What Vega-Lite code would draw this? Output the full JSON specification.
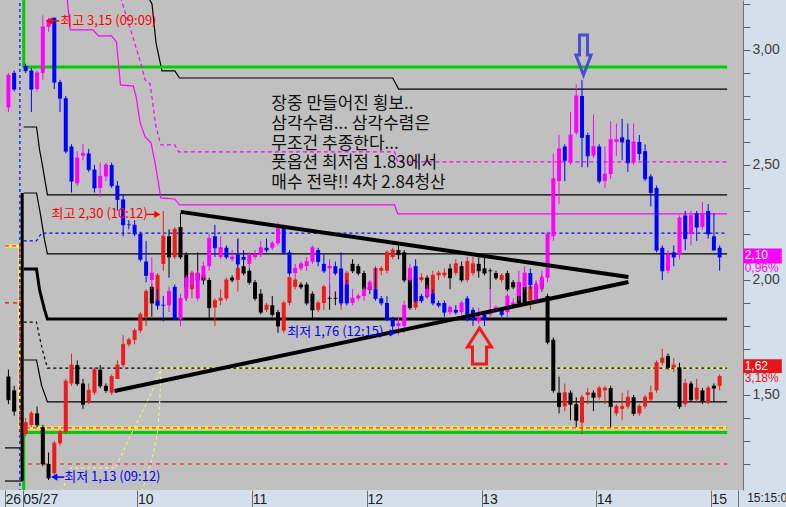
{
"$schema": "https://vega.github.io/schema/vega-lite/v6.json",
"width": 743, "height": 490,
"autosize": {"type": "none"},
"padding": {"left": 0, "top": 0, "right": 43, "bottom": 17},
"background": "#d4dfec",
"config": {"view": {"stroke": null, "fill": "#c0c0c0"}},
"datasets": {
"A": [
{"t":-7.5,"o":2.75,"h":2.9,"l":2.73,"c":2.89},{"t":-4.5,"o":2.9,"h":2.91,"l":2.82,"c":2.83},
{"t":1.5,"o":2.93,"h":2.94,"l":2.9,"c":2.91},{"t":4.5,"o":2.91,"h":2.92,"l":2.73,"c":2.83},{"t":7.5,"o":2.83,"h":2.91,"l":2.82,"c":2.9},{"t":10.5,"o":2.9,"h":3.15,"l":2.87,"c":3.1},{"t":13.5,"o":3.1,"h":3.14,"l":3.08,"c":3.13},
{"t":16.5,"o":3.14,"h":3.14,"l":2.83,"c":2.86},{"t":19.5,"o":2.86,"h":2.87,"l":2.73,"c":2.79},{"t":22.5,"o":2.79,"h":2.8,"l":2.55,"c":2.56},{"t":25.5,"o":2.58,"h":2.59,"l":2.38,"c":2.43},{"t":28.5,"o":2.42,"h":2.56,"l":2.41,"c":2.53},
{"t":31.5,"o":2.54,"h":2.59,"l":2.52,"c":2.55},{"t":34.5,"o":2.55,"h":2.57,"l":2.47,"c":2.48},{"t":37.5,"o":2.48,"h":2.5,"l":2.38,"c":2.4},{"t":40.5,"o":2.4,"h":2.51,"l":2.36,"c":2.45},{"t":43.5,"o":2.45,"h":2.51,"l":2.43,"c":2.5},
{"t":46.5,"o":2.5,"h":2.51,"l":2.4,"c":2.41},{"t":49.5,"o":2.41,"h":2.43,"l":2.3,"c":2.35},{"t":52.5,"o":2.35,"h":2.37,"l":2.19,"c":2.24},{"t":55.5,"o":2.24,"h":2.26,"l":2.22,"c":2.24},{"t":58.5,"o":2.24,"h":2.26,"l":2.19,"c":2.2},
{"t":61.5,"o":2.2,"h":2.21,"l":2.08,"c":2.09},{"t":64.5,"o":2.08,"h":2.17,"l":1.99,"c":2.02},{"t":67.5,"o":2.0,"h":2.1,"l":1.96,"c":2.03},{"t":70.5,"o":1.91,"h":1.96,"l":1.87,"c":1.89},{"t":73.5,"o":1.89,"h":1.93,"l":1.82,"c":1.89},
{"t":76.5,"o":1.89,"h":1.97,"l":1.86,"c":1.95},{"t":79.5,"o":1.97,"h":1.98,"l":1.83,"c":1.83},{"t":82.5,"o":1.83,"h":1.94,"l":1.8,"c":1.92},{"t":85.5,"o":1.92,"h":2.02,"l":1.91,"c":2.01},{"t":88.5,"o":1.98,"h":2.03,"l":1.97,"c":2.02},
{"t":91.5,"o":1.92,"h":2.04,"l":1.91,"c":2.03},{"t":94.5,"o":2.01,"h":2.08,"l":2.0,"c":2.06},{"t":97.5,"o":2.06,"h":2.2,"l":2.04,"c":2.18},{"t":100.5,"o":2.19,"h":2.24,"l":2.1,"c":2.14},{"t":103.5,"o":2.1,"h":2.19,"l":2.09,"c":2.14},
{"t":106.5,"o":2.14,"h":2.15,"l":2.09,"c":2.1},{"t":109.5,"o":2.09,"h":2.13,"l":2.08,"c":2.1},{"t":112.5,"o":2.11,"h":2.18,"l":2.05,"c":2.07},{"t":115.5,"o":2.1,"h":2.13,"l":2.08,"c":2.09},{"t":118.5,"o":2.07,"h":2.12,"l":2.05,"c":2.11},
{"t":121.5,"o":2.1,"h":2.13,"l":2.09,"c":2.11},{"t":124.5,"o":2.11,"h":2.17,"l":2.1,"c":2.14},{"t":127.5,"o":2.14,"h":2.18,"l":2.12,"c":2.13},{"t":130.5,"o":2.14,"h":2.17,"l":2.13,"c":2.16},{"t":133.5,"o":2.16,"h":2.25,"l":2.15,"c":2.24},
{"t":136.5,"o":2.23,"h":2.24,"l":2.11,"c":2.12},{"t":139.5,"o":2.12,"h":2.13,"l":2.02,"c":2.03},{"t":142.5,"o":2.03,"h":2.07,"l":2.01,"c":2.05},{"t":145.5,"o":2.05,"h":2.08,"l":2.04,"c":2.07},{"t":148.5,"o":2.06,"h":2.1,"l":2.04,"c":2.08},
{"t":151.5,"o":2.08,"h":2.15,"l":2.07,"c":2.14},{"t":154.5,"o":2.13,"h":2.14,"l":2.06,"c":2.08},{"t":157.5,"o":2.07,"h":2.11,"l":2.03,"c":2.04},{"t":160.5,"o":2.05,"h":2.09,"l":1.93,"c":2.06},{"t":163.5,"o":2.06,"h":2.08,"l":2.02,"c":2.03},
{"t":166.5,"o":2.05,"h":2.12,"l":1.89,"c":1.9},{"t":169.5,"o":1.98,"h":2.0,"l":1.89,"c":1.9},{"t":172.5,"o":1.9,"h":1.96,"l":1.89,"c":1.92},{"t":175.5,"o":1.92,"h":1.94,"l":1.91,"c":1.93},{"t":178.5,"o":1.93,"h":1.97,"l":1.91,"c":1.96},
{"t":181.5,"o":1.96,"h":2.0,"l":1.95,"c":1.99},{"t":184.5,"o":1.96,"h":2.05,"l":1.91,"c":1.92},{"t":187.5,"o":1.92,"h":1.93,"l":1.89,"c":1.9},{"t":190.5,"o":1.9,"h":1.93,"l":1.82,"c":1.83},{"t":193.5,"o":1.83,"h":1.84,"l":1.77,"c":1.8},
{"t":196.5,"o":1.8,"h":1.84,"l":1.76,"c":1.81},{"t":199.5,"o":1.8,"h":1.91,"l":1.77,"c":1.89},{"t":202.5,"o":2.0,"h":2.07,"l":1.99,"c":2.05},{"t":205.5,"o":2.06,"h":2.09,"l":1.9,"c":1.91},{"t":208.5,"o":1.93,"h":1.94,"l":1.9,"c":1.91},
{"t":211.5,"o":1.93,"h":1.98,"l":1.92,"c":1.96},{"t":214.5,"o":1.94,"h":1.96,"l":1.89,"c":1.9},{"t":217.5,"o":1.9,"h":1.91,"l":1.88,"c":1.89},{"t":220.5,"o":1.9,"h":1.91,"l":1.84,"c":1.86},{"t":223.5,"o":1.86,"h":1.89,"l":1.85,"c":1.88},
{"t":226.5,"o":1.87,"h":1.89,"l":1.85,"c":1.86},{"t":229.5,"o":1.86,"h":1.91,"l":1.85,"c":1.9},{"t":232.5,"o":1.92,"h":1.93,"l":1.82,"c":1.83},{"t":235.5,"o":1.87,"h":1.88,"l":1.8,"c":1.83},{"t":238.5,"o":1.82,"h":1.88,"l":1.81,"c":1.84},
{"t":241.5,"o":1.85,"h":1.86,"l":1.8,"c":1.83},{"t":244.5,"o":1.85,"h":1.96,"l":1.84,"c":1.87},{"t":247.5,"o":1.87,"h":1.89,"l":1.86,"c":1.88},{"t":250.5,"o":1.87,"h":1.88,"l":1.84,"c":1.85},{"t":253.5,"o":1.86,"h":1.94,"l":1.84,"c":1.93},
{"t":256.5,"o":1.89,"h":1.92,"l":1.88,"c":1.9},{"t":259.5,"o":1.93,"h":2.04,"l":1.91,"c":1.99},{"t":262.5,"o":1.97,"h":2.06,"l":1.96,"c":2.03},{"t":265.5,"o":2.03,"h":2.05,"l":1.96,"c":1.98},{"t":268.5,"o":1.91,"h":2.0,"l":1.9,"c":1.98},
{"t":271.5,"o":1.96,"h":2.04,"l":1.95,"c":2.01},{"t":274.5,"o":2.01,"h":2.21,"l":1.99,"c":2.2},{"t":277.5,"o":2.19,"h":2.55,"l":2.17,"c":2.44},{"t":280.5,"o":2.43,"h":2.63,"l":2.33,"c":2.57},{"t":283.5,"o":2.58,"h":2.59,"l":2.43,"c":2.52},
{"t":286.5,"o":2.51,"h":2.73,"l":2.5,"c":2.63},{"t":289.5,"o":2.64,"h":2.85,"l":2.63,"c":2.8},{"t":292.5,"o":2.8,"h":2.87,"l":2.49,"c":2.62},{"t":295.5,"o":2.63,"h":2.64,"l":2.49,"c":2.54},{"t":298.5,"o":2.54,"h":2.72,"l":2.53,"c":2.58},
{"t":301.5,"o":2.58,"h":2.59,"l":2.42,"c":2.43},{"t":304.5,"o":2.43,"h":2.58,"l":2.4,"c":2.46},{"t":307.5,"o":2.46,"h":2.69,"l":2.44,"c":2.61},{"t":310.5,"o":2.6,"h":2.68,"l":2.54,"c":2.61},{"t":313.5,"o":2.62,"h":2.7,"l":2.52,"c":2.6},
{"t":316.5,"o":2.61,"h":2.68,"l":2.47,"c":2.51},{"t":319.5,"o":2.51,"h":2.68,"l":2.5,"c":2.6},{"t":322.5,"o":2.6,"h":2.63,"l":2.52,"c":2.55},{"t":325.5,"o":2.56,"h":2.59,"l":2.43,"c":2.44},{"t":328.5,"o":2.45,"h":2.46,"l":2.32,"c":2.38},
{"t":331.5,"o":2.4,"h":2.41,"l":2.12,"c":2.13},{"t":334.5,"o":2.14,"h":2.15,"l":2.0,"c":2.04},{"t":337.5,"o":2.04,"h":2.13,"l":2.03,"c":2.11},{"t":340.5,"o":2.12,"h":2.15,"l":2.06,"c":2.1},{"t":343.5,"o":2.11,"h":2.28,"l":2.09,"c":2.27},
{"t":346.5,"o":2.28,"h":2.3,"l":2.13,"c":2.18},{"t":349.5,"o":2.2,"h":2.3,"l":2.15,"c":2.28},{"t":352.5,"o":2.29,"h":2.3,"l":2.17,"c":2.23},{"t":355.5,"o":2.23,"h":2.34,"l":2.22,"c":2.29},{"t":358.5,"o":2.3,"h":2.33,"l":2.18,"c":2.2},
{"t":361.5,"o":2.19,"h":2.29,"l":2.13,"c":2.13},{"t":364.5,"o":2.14,"h":2.15,"l":2.04,"c":2.1}
],
"B": [
{"t":-7.5,"o":1.58,"h":1.61,"l":1.46,"c":1.48},{"t":-4.5,"o":1.52,"h":1.54,"l":1.41,"c":1.43},
{"t":1.5,"o":1.33,"h":1.4,"l":1.32,"c":1.38},{"t":4.5,"o":1.37,"h":1.43,"l":1.36,"c":1.42},{"t":7.5,"o":1.42,"h":1.45,"l":1.36,"c":1.37},{"t":10.5,"o":1.36,"h":1.37,"l":1.19,"c":1.2},{"t":13.5,"o":1.2,"h":1.25,"l":1.13,"c":1.14},
{"t":16.5,"o":1.16,"h":1.3,"l":1.14,"c":1.29},{"t":19.5,"o":1.29,"h":1.35,"l":1.28,"c":1.34},{"t":22.5,"o":1.34,"h":1.57,"l":1.33,"c":1.56},{"t":25.5,"o":1.55,"h":1.68,"l":1.54,"c":1.63},{"t":28.5,"o":1.63,"h":1.65,"l":1.54,"c":1.55},
{"t":31.5,"o":1.55,"h":1.57,"l":1.44,"c":1.46},{"t":34.5,"o":1.47,"h":1.55,"l":1.46,"c":1.52},{"t":37.5,"o":1.51,"h":1.62,"l":1.5,"c":1.61},{"t":40.5,"o":1.61,"h":1.63,"l":1.53,"c":1.54},{"t":43.5,"o":1.54,"h":1.55,"l":1.51,"c":1.52},
{"t":46.5,"o":1.51,"h":1.59,"l":1.5,"c":1.58},{"t":49.5,"o":1.57,"h":1.65,"l":1.57,"c":1.63},{"t":52.5,"o":1.63,"h":1.76,"l":1.62,"c":1.72},{"t":55.5,"o":1.72,"h":1.75,"l":1.71,"c":1.74},{"t":58.5,"o":1.74,"h":1.79,"l":1.72,"c":1.78},
{"t":61.5,"o":1.78,"h":1.86,"l":1.77,"c":1.85},{"t":64.5,"o":1.84,"h":1.96,"l":1.8,"c":1.95},{"t":67.5,"o":1.97,"h":1.98,"l":1.84,"c":1.9},{"t":70.5,"o":1.89,"h":2.03,"l":1.88,"c":2.02},{"t":73.5,"o":2.07,"h":2.3,"l":2.04,"c":2.19},
{"t":76.5,"o":2.19,"h":2.22,"l":2.01,"c":2.1},{"t":79.5,"o":2.1,"h":2.23,"l":2.09,"c":2.22},{"t":82.5,"o":2.23,"h":2.29,"l":2.09,"c":2.1},{"t":85.5,"o":2.11,"h":2.12,"l":1.91,"c":1.97},{"t":88.5,"o":1.96,"h":2.04,"l":1.92,"c":2.03},
{"t":91.5,"o":2.03,"h":2.12,"l":1.96,"c":2.0},{"t":94.5,"o":2.02,"h":2.06,"l":1.98,"c":2.0},{"t":97.5,"o":2.0,"h":2.01,"l":1.83,"c":1.88},{"t":100.5,"o":1.88,"h":1.92,"l":1.8,"c":1.91},{"t":103.5,"o":1.91,"h":1.96,"l":1.89,"c":1.92},
{"t":106.5,"o":1.92,"h":2.01,"l":1.91,"c":2.0},{"t":109.5,"o":2.01,"h":2.02,"l":1.99,"c":2.0},{"t":112.5,"o":2.0,"h":2.18,"l":1.95,"c":2.05},{"t":115.5,"o":2.06,"h":2.12,"l":2.02,"c":2.03},{"t":118.5,"o":2.04,"h":2.05,"l":1.98,"c":1.99},
{"t":121.5,"o":1.99,"h":2.0,"l":1.91,"c":1.92},{"t":124.5,"o":1.94,"h":1.96,"l":1.85,"c":1.86},{"t":127.5,"o":1.87,"h":1.9,"l":1.86,"c":1.89},{"t":130.5,"o":1.89,"h":1.93,"l":1.84,"c":1.85},{"t":133.5,"o":1.86,"h":1.87,"l":1.77,"c":1.8},
{"t":136.5,"o":1.78,"h":1.91,"l":1.77,"c":1.9},{"t":139.5,"o":1.9,"h":2.03,"l":1.89,"c":2.01},{"t":142.5,"o":1.97,"h":2.01,"l":1.96,"c":2.0},{"t":145.5,"o":1.98,"h":1.99,"l":1.96,"c":1.97},{"t":148.5,"o":1.98,"h":1.99,"l":1.89,"c":1.9},
{"t":151.5,"o":1.94,"h":1.95,"l":1.83,"c":1.87},{"t":154.5,"o":1.87,"h":1.91,"l":1.86,"c":1.9},{"t":157.5,"o":1.9,"h":1.98,"l":1.87,"c":1.97},{"t":160.5,"o":1.92,"h":1.98,"l":1.87,"c":1.92},{"t":163.5,"o":1.92,"h":1.95,"l":1.89,"c":1.92},
{"t":166.5,"o":1.9,"h":2.03,"l":1.87,"c":2.0},{"t":169.5,"o":1.91,"h":2.04,"l":1.9,"c":2.03},{"t":172.5,"o":2.07,"h":2.09,"l":2.03,"c":2.04},{"t":175.5,"o":2.06,"h":2.07,"l":2.02,"c":2.03},{"t":178.5,"o":2.03,"h":2.04,"l":1.95,"c":1.96},
{"t":181.5,"o":1.97,"h":1.98,"l":1.94,"c":1.96},{"t":184.5,"o":1.96,"h":2.06,"l":1.95,"c":2.05},{"t":187.5,"o":2.04,"h":2.06,"l":2.02,"c":2.05},{"t":190.5,"o":2.04,"h":2.13,"l":2.03,"c":2.12},{"t":193.5,"o":2.1,"h":2.14,"l":2.09,"c":2.13},
{"t":196.5,"o":2.13,"h":2.15,"l":2.09,"c":2.11},{"t":199.5,"o":2.12,"h":2.13,"l":1.99,"c":2.0},{"t":202.5,"o":2.01,"h":2.02,"l":1.87,"c":1.88},{"t":205.5,"o":1.88,"h":2.04,"l":1.87,"c":2.01},{"t":208.5,"o":2.0,"h":2.03,"l":1.99,"c":2.01},
{"t":211.5,"o":2.01,"h":2.02,"l":1.92,"c":1.93},{"t":214.5,"o":1.94,"h":2.04,"l":1.93,"c":2.02},{"t":217.5,"o":2.02,"h":2.04,"l":2.0,"c":2.03},{"t":220.5,"o":2.02,"h":2.05,"l":2.01,"c":2.03},{"t":223.5,"o":2.05,"h":2.07,"l":1.96,"c":2.01},
{"t":226.5,"o":2.03,"h":2.09,"l":2.02,"c":2.07},{"t":229.5,"o":2.06,"h":2.08,"l":1.99,"c":2.0},{"t":232.5,"o":2.0,"h":2.1,"l":1.99,"c":2.08},{"t":235.5,"o":2.03,"h":2.1,"l":2.02,"c":2.07},{"t":238.5,"o":2.07,"h":2.1,"l":2.01,"c":2.04},
{"t":241.5,"o":2.05,"h":2.1,"l":2.02,"c":2.03},{"t":244.5,"o":2.04,"h":2.05,"l":1.96,"c":2.04},{"t":247.5,"o":2.03,"h":2.04,"l":2.0,"c":2.01},{"t":250.5,"o":2.0,"h":2.03,"l":1.99,"c":2.02},{"t":253.5,"o":2.03,"h":2.04,"l":1.95,"c":1.96},
{"t":256.5,"o":1.99,"h":2.0,"l":1.96,"c":1.97},{"t":259.5,"o":1.98,"h":1.99,"l":1.89,"c":1.9},{"t":262.5,"o":1.97,"h":1.98,"l":1.89,"c":1.9},{"t":265.5,"o":1.91,"h":1.98,"l":1.87,"c":1.97},{"t":268.5,"o":1.97,"h":1.99,"l":1.94,"c":1.96},
{"t":271.5,"o":2.0,"h":2.02,"l":1.95,"c":1.97},{"t":274.5,"o":1.93,"h":1.94,"l":1.72,"c":1.73},{"t":277.5,"o":1.74,"h":1.75,"l":1.51,"c":1.52},{"t":280.5,"o":1.51,"h":1.58,"l":1.42,"c":1.45},{"t":283.5,"o":1.45,"h":1.55,"l":1.43,"c":1.51},
{"t":286.5,"o":1.51,"h":1.52,"l":1.39,"c":1.46},{"t":289.5,"o":1.46,"h":1.49,"l":1.36,"c":1.39},{"t":292.5,"o":1.38,"h":1.5,"l":1.33,"c":1.49},{"t":295.5,"o":1.5,"h":1.53,"l":1.46,"c":1.51},{"t":298.5,"o":1.51,"h":1.52,"l":1.43,"c":1.49},
{"t":301.5,"o":1.49,"h":1.54,"l":1.48,"c":1.53},{"t":304.5,"o":1.52,"h":1.54,"l":1.46,"c":1.53},{"t":307.5,"o":1.53,"h":1.54,"l":1.36,"c":1.45},{"t":310.5,"o":1.42,"h":1.46,"l":1.41,"c":1.45},{"t":313.5,"o":1.44,"h":1.51,"l":1.39,"c":1.45},
{"t":316.5,"o":1.45,"h":1.52,"l":1.44,"c":1.49},{"t":319.5,"o":1.49,"h":1.5,"l":1.41,"c":1.42},{"t":322.5,"o":1.42,"h":1.46,"l":1.41,"c":1.45},{"t":325.5,"o":1.45,"h":1.5,"l":1.44,"c":1.49},{"t":328.5,"o":1.48,"h":1.54,"l":1.47,"c":1.51},
{"t":331.5,"o":1.52,"h":1.65,"l":1.51,"c":1.64},{"t":334.5,"o":1.64,"h":1.7,"l":1.63,"c":1.66},{"t":337.5,"o":1.67,"h":1.68,"l":1.61,"c":1.62},{"t":340.5,"o":1.62,"h":1.66,"l":1.6,"c":1.63},{"t":343.5,"o":1.62,"h":1.64,"l":1.44,"c":1.45},
{"t":346.5,"o":1.46,"h":1.57,"l":1.45,"c":1.55},{"t":349.5,"o":1.55,"h":1.56,"l":1.47,"c":1.48},{"t":352.5,"o":1.48,"h":1.57,"l":1.47,"c":1.53},{"t":355.5,"o":1.52,"h":1.53,"l":1.46,"c":1.47},{"t":358.5,"o":1.47,"h":1.54,"l":1.46,"c":1.53},
{"t":361.5,"o":1.54,"h":1.55,"l":1.47,"c":1.53},{"t":364.5,"o":1.54,"h":1.59,"l":1.52,"c":1.58}
],
"lines": [
{"line":"upperBlack","k":0,"t":65.5,"p":3.23},{"line":"upperBlack","k":1,"t":67.6,"p":3.2},{"line":"upperBlack","k":2,"t":69.7,"p":3.03},{"line":"upperBlack","k":3,"t":72.8,"p":2.909},{"line":"upperBlack","k":4,"t":79.5,"p":2.909},{"line":"upperBlack","k":5,"t":82.0,"p":2.878},{"line":"upperBlack","k":6,"t":193.5,"p":2.878},{"line":"upperBlack","k":7,"t":196.6,"p":2.83},{"line":"upperBlack","k":8,"t":368.4,"p":2.83},
{"line":"magSolid","k":0,"t":23.2,"p":3.23},{"line":"magSolid","k":1,"t":24.8,"p":3.087},{"line":"magSolid","k":2,"t":36.6,"p":3.087},{"line":"magSolid","k":3,"t":39.7,"p":3.061},{"line":"magSolid","k":4,"t":46.4,"p":3.061},{"line":"magSolid","k":5,"t":49.0,"p":3.035},{"line":"magSolid","k":6,"t":51.1,"p":2.848},{"line":"magSolid","k":7,"t":57.8,"p":2.843},{"line":"magSolid","k":8,"t":59.3,"p":2.796},{"line":"magSolid","k":9,"t":61.4,"p":2.683},{"line":"magSolid","k":10,"t":64.0,"p":2.622},{"line":"magSolid","k":11,"t":67.1,"p":2.596},{"line":"magSolid","k":12,"t":69.1,"p":2.513},{"line":"magSolid","k":13,"t":70.7,"p":2.435},{"line":"magSolid","k":14,"t":72.2,"p":2.357},{"line":"magSolid","k":15,"t":79.5,"p":2.352},{"line":"magSolid","k":16,"t":82.0,"p":2.326},{"line":"magSolid","k":17,"t":194.5,"p":2.326},{"line":"magSolid","k":18,"t":196.1,"p":2.287},{"line":"magSolid","k":19,"t":368.4,"p":2.287},
{"line":"magDash","k":0,"t":51.1,"p":3.23},{"line":"magDash","k":1,"t":61.4,"p":2.952},{"line":"magDash","k":2,"t":64.0,"p":2.87},{"line":"magDash","k":3,"t":66.6,"p":2.852},{"line":"magDash","k":4,"t":69.7,"p":2.665},{"line":"magDash","k":5,"t":72.2,"p":2.587},{"line":"magDash","k":6,"t":79.5,"p":2.587},{"line":"magDash","k":7,"t":81.5,"p":2.557},{"line":"magDash","k":8,"t":194.5,"p":2.557},{"line":"magDash","k":9,"t":196.1,"p":2.513},{"line":"magDash","k":10,"t":368.4,"p":2.513},
{"line":"blackA","k":0,"t":0.5,"p":2.665},{"line":"blackA","k":1,"t":7.2,"p":2.665},{"line":"blackA","k":2,"t":8.8,"p":2.565},{"line":"blackA","k":3,"t":9.8,"p":2.522},{"line":"blackA","k":4,"t":12.9,"p":2.37},{"line":"blackA","k":5,"t":368.4,"p":2.37},
{"line":"blackB","k":0,"t":0.5,"p":2.378},{"line":"blackB","k":1,"t":7.2,"p":2.378},{"line":"blackB","k":2,"t":9.3,"p":2.283},{"line":"blackB","k":3,"t":11.4,"p":2.174},{"line":"blackB","k":4,"t":12.9,"p":2.113},{"line":"blackB","k":5,"t":368.4,"p":2.113},
{"line":"thickC","k":0,"t":0.5,"p":2.048},{"line":"thickC","k":1,"t":7.2,"p":2.048},{"line":"thickC","k":2,"t":8.8,"p":1.957},{"line":"thickC","k":3,"t":11.4,"p":1.87},{"line":"thickC","k":4,"t":12.9,"p":1.83},{"line":"thickC","k":5,"t":368.4,"p":1.83},
{"line":"blackD","k":0,"t":0.5,"p":1.652},{"line":"blackD","k":1,"t":7.2,"p":1.652},{"line":"blackD","k":2,"t":9.8,"p":1.543},{"line":"blackD","k":3,"t":12.9,"p":1.47},{"line":"blackD","k":4,"t":368.4,"p":1.47},
{"line":"dashE","k":0,"t":0.5,"p":1.817},{"line":"dashE","k":1,"t":7.2,"p":1.817},{"line":"dashE","k":2,"t":8.3,"p":1.77},{"line":"dashE","k":3,"t":10.3,"p":1.696},{"line":"dashE","k":4,"t":12.9,"p":1.617},{"line":"dashE","k":5,"t":368.4,"p":1.617},
{"line":"yellowE","k":0,"t":72.2,"p":1.617},{"line":"yellowE","k":1,"t":368.4,"p":1.617},
{"line":"blueDash","k":0,"t":0.5,"p":2.17},{"line":"blueDash","k":1,"t":7.2,"p":2.17},{"line":"blueDash","k":2,"t":9.8,"p":2.204},{"line":"blueDash","k":3,"t":368.4,"p":2.204},
{"line":"blueV","k":0,"t":-1.5,"p":3.23},{"line":"blueV","k":1,"t":-1.5,"p":1.08},
{"line":"redDash","k":0,"t":-9.3,"p":1.9},{"line":"redDash","k":1,"t":-1.0,"p":1.9},{"line":"redDash","k":2,"t":-1.0,"p":1.2},{"line":"redDash","k":3,"t":368.4,"p":1.2},
{"line":"yellowLow","k":0,"t":-9.3,"p":2.148},{"line":"yellowLow","k":1,"t":-1.5,"p":2.148},{"line":"yellowLow","k":2,"t":-1.5,"p":1.357},{"line":"yellowLow","k":3,"t":368.4,"p":1.357},
{"line":"magDashLow","k":0,"t":-9.3,"p":2.148},{"line":"magDashLow","k":1,"t":-1.5,"p":2.148},{"line":"magDashLow","k":2,"t":-1.5,"p":1.357},{"line":"magDashLow","k":3,"t":368.4,"p":1.357},
{"line":"greenTop","k":0,"t":0,"p":2.926},{"line":"greenTop","k":1,"t":368.4,"p":2.926},
{"line":"greenLow","k":0,"t":0,"p":1.337},{"line":"greenLow","k":1,"t":368.4,"p":1.337},
{"line":"greenV1","k":0,"t":0.5,"p":3.23},{"line":"greenV1","k":1,"t":0.5,"p":2.926},
{"line":"greenV2","k":0,"t":0.5,"p":1.337},{"line":"greenV2","k":1,"t":0.5,"p":1.08},
{"line":"blackV","k":0,"t":-0.3,"p":2.378},{"line":"blackV","k":1,"t":-0.3,"p":1.126},
{"line":"prevBlack1","k":0,"t":-9.3,"p":1.27},{"line":"prevBlack1","k":1,"t":-0.3,"p":1.27},
{"line":"prevBlack2","k":0,"t":-9.3,"p":1.126},{"line":"prevBlack2","k":1,"t":-0.3,"p":1.126},
{"line":"yel1","k":0,"t":20.6,"p":1.08},{"line":"yel1","k":1,"t":24.8,"p":1.183},{"line":"yel1","k":2,"t":48.5,"p":1.183},{"line":"yel1","k":3,"t":55.2,"p":1.304},{"line":"yel1","k":4,"t":63.0,"p":1.435},{"line":"yel1","k":5,"t":69.1,"p":1.543},{"line":"yel1","k":6,"t":72.2,"p":1.613},
{"line":"yel2","k":0,"t":62.4,"p":1.08},{"line":"yel2","k":1,"t":68.1,"p":1.239},{"line":"yel2","k":2,"t":70.7,"p":1.348},{"line":"yel2","k":3,"t":71.7,"p":1.478},{"line":"yel2","k":4,"t":72.2,"p":1.613},
{"line":"triUpper","k":0,"t":82.6,"p":2.296},{"line":"triUpper","k":1,"t":316.8,"p":2.013},
{"line":"triLower","k":0,"t":48.0,"p":1.517},{"line":"triLower","k":1,"t":316.8,"p":1.991},
{"line":"arrHi1","k":0,"t":15.2,"p":3.126},{"line":"arrHi1","k":1,"t":19.1,"p":3.126},
{"line":"arrHi2","k":0,"t":64.5,"p":2.285},{"line":"arrHi2","k":1,"t":70.4,"p":2.285},
{"line":"arrLo2","k":0,"t":16.5,"p":1.143},{"line":"arrLo2","k":1,"t":21.7,"p":1.143}
],
"tri": [
{"t":13.7,"p":3.126,"kind":"high","dir":"left"},
{"t":70.4,"p":2.285,"kind":"high","dir":"right"},
{"t":193.5,"p":1.77,"kind":"low","dir":"right"},
{"t":16.5,"p":1.143,"kind":"low","dir":"left"}
],
"ann": [
{"t":19.6,"p":3.126,"kind":"high","txt":"최고 3,15 (09:09)"},
{"t":15.0,"p":2.285,"kind":"high","txt":"최고 2,30 (10:12)"},
{"t":138.3,"p":1.774,"kind":"low","txt":"최저 1,76 (12:15)"},
{"t":21.7,"p":1.143,"kind":"low","txt":"최저 1,13 (09:12)"}
],
"notes": [
{"t":130.0,"p":2.765,"txt":"장중 만들어진 횡보.."},
{"t":130.0,"p":2.678,"txt":"삼각수렴... 삼각수렴은"},
{"t":130.0,"p":2.593,"txt":"무조건 추종한다..."},
{"t":130.0,"p":2.507,"txt":"풋옵션 최저점 1.83에서"},
{"t":130.0,"p":2.42,"txt":"매수 전략!! 4차 2.84청산"}
],
"bigArrows": [
{"t":238.9,"p":1.713,"kind":"up"},
{"t":293.3,"p":2.978,"kind":"down"}
],
"boxes": [
{"t":376.7,"t2":397,"p":2.137,"p2":2.072,"name":"A"},
{"t":376.7,"t2":397,"p":1.655,"p2":1.596,"name":"B"}
],
"rlabels": [
{"t":377.6,"p":2.107,"txt":"2,10","name":"Abox"},
{"t":377.6,"p":2.054,"txt":"0,96%","name":"Apct"},
{"t":377.6,"p":1.626,"txt":"1,62","name":"Bbox"},
{"t":377.6,"p":1.574,"txt":"3,18%","name":"Bpct"},
{"t":378.9,"p":1.052,"txt":"15:15:00","name":"time"}
]
},
"encoding": {
"x": {"field": "t", "type": "quantitative", "title": null,
 "scale": {"domain": [-9.29, 374.1], "nice": false, "zero": false},
 "axis": {"orient": "bottom", "values": [-9.29, 0, 60, 120, 180, 240, 300, 360, 374.1],
  "labelExpr": "datum.value < -5 ? '26' : (datum.value == 0 ? '05/27' : (datum.value > 370 ? '' : format(9 + datum.value/60, 'd')))",
  "labelAlign": "left", "labelBaseline": "top", "labelPadding": -15, "labelDx": 2,
  "tickSize": 17, "tickColor": "#6e6e6e", "tickWidth": 1, "domain": false, "grid": false, "title": null,
  "labelFont": "Liberation Sans", "labelFontSize": 14, "labelColor": "#222222",
  "labelFlush": false, "labelOverlap": false, "labelBound": false}},
"y": {"field": "p", "type": "quantitative", "title": null,
 "scale": {"domain": [1.087, 3.217], "nice": false, "zero": false},
 "axis": {"orient": "right", "values": [1.2,1.3,1.4,1.5,1.6,1.7,1.8,1.9,2.0,2.1,2.2,2.3,2.4,2.5,2.6,2.7,2.8,2.9,3.0,3.1,3.2],
  "labelExpr": "abs(datum.value*2 - round(datum.value*2)) < 0.01 ? replace(format(datum.value, '.2f'), '.', ',') : ''",
  "tickSize": 7, "tickColor": "#606060", "domainColor": "#707070", "grid": false, "title": null,
  "labelFont": "Liberation Sans", "labelFontSize": 14, "labelColor": "#404040", "labelPadding": 2, "labelOverlap": false, "labelBaseline": "middle"}}
},
"layer": [
{"data": {"name": "lines"},
 "transform": [{"filter": {"field": "line", "oneOf": ["upperBlack", "blackA", "blackB", "blackD", "prevBlack1", "prevBlack2"]}}],
 "mark": {"type": "line", "color": "#000000", "strokeWidth": 1.2, "clip": true},
 "encoding": {"detail": {"field": "line"}, "order": {"field": "k"}}},
{"data": {"name": "lines"},
 "transform": [{"filter": {"field": "line", "oneOf": ["greenTop", "greenLow", "greenV1", "greenV2"]}}],
 "mark": {"type": "line", "color": "#00cc00", "strokeWidth": 3, "clip": true},
 "encoding": {"detail": {"field": "line"}, "order": {"field": "k"}}},
{"data": {"name": "lines"},
 "transform": [{"filter": {"field": "line", "oneOf": ["yellowLow"]}}],
 "mark": {"type": "line", "color": "#ffff00", "strokeWidth": 3, "clip": true},
 "encoding": {"detail": {"field": "line"}, "order": {"field": "k"}}},
{"data": {"name": "lines"},
 "transform": [{"filter": {"field": "line", "oneOf": ["yellowE"]}}],
 "mark": {"type": "line", "color": "#ffff40", "strokeWidth": 1.3, "clip": true},
 "encoding": {"detail": {"field": "line"}, "order": {"field": "k"}}},
{"data": {"name": "lines"},
 "transform": [{"filter": {"field": "line", "oneOf": ["magDash", "magDashLow"]}}],
 "mark": {"type": "line", "color": "#ff00ff", "strokeWidth": 1.2, "strokeDash": [4, 3], "clip": true},
 "encoding": {"detail": {"field": "line"}, "order": {"field": "k"}}},
{"data": {"name": "lines"},
 "transform": [{"filter": {"field": "line", "oneOf": ["magSolid"]}}],
 "mark": {"type": "line", "color": "#ff00ff", "strokeWidth": 1.2, "clip": true},
 "encoding": {"detail": {"field": "line"}, "order": {"field": "k"}}},
{"data": {"name": "lines"},
 "transform": [{"filter": {"field": "line", "oneOf": ["blueDash", "blueV"]}}],
 "mark": {"type": "line", "color": "#0000ff", "strokeWidth": 1.2, "strokeDash": [3, 3], "clip": true},
 "encoding": {"detail": {"field": "line"}, "order": {"field": "k"}}},
{"data": {"name": "lines"},
 "transform": [{"filter": {"field": "line", "oneOf": ["redDash"]}}],
 "mark": {"type": "line", "color": "#ff0000", "strokeWidth": 1.2, "strokeDash": [4, 4], "clip": true},
 "encoding": {"detail": {"field": "line"}, "order": {"field": "k"}}},
{"data": {"name": "lines"},
 "transform": [{"filter": {"field": "line", "oneOf": ["yel1", "yel2"]}}],
 "mark": {"type": "line", "color": "#ffff70", "strokeWidth": 1, "strokeDash": [3, 3], "clip": true},
 "encoding": {"detail": {"field": "line"}, "order": {"field": "k"}}},
{"data": {"name": "lines"},
 "transform": [{"filter": {"field": "line", "oneOf": ["dashE"]}}],
 "mark": {"type": "line", "color": "#000000", "strokeWidth": 1.2, "strokeDash": [3, 3], "clip": true},
 "encoding": {"detail": {"field": "line"}, "order": {"field": "k"}}},
{"data": {"name": "lines"},
 "transform": [{"filter": {"field": "line", "oneOf": ["thickC", "blackV"]}}],
 "mark": {"type": "line", "color": "#000000", "strokeWidth": 3, "clip": true},
 "encoding": {"detail": {"field": "line"}, "order": {"field": "k"}}},
{"data": {"name": "B"},
 "mark": {"type": "rule", "strokeWidth": 1},
 "encoding": {"y": {"field": "l", "type": "quantitative", "title": null, "scale": {"domain": [1.087, 3.217], "nice": false, "zero": false},
   "axis": {"orient": "right", "values": [1.2,1.3,1.4,1.5,1.6,1.7,1.8,1.9,2.0,2.1,2.2,2.3,2.4,2.5,2.6,2.7,2.8,2.9,3.0,3.1,3.2], "labelExpr": "abs(datum.value*2 - round(datum.value*2)) < 0.01 ? replace(format(datum.value, '.2f'), '.', ',') : ''", "tickSize": 7, "tickColor": "#606060", "domainColor": "#707070", "grid": false, "title": null, "labelFont": "Liberation Sans", "labelFontSize": 14, "labelColor": "#404040", "labelPadding": 2, "labelOverlap": false, "labelBaseline": "middle"}},
  "y2": {"field": "h"},
  "color": {"condition": {"test": "datum.c > datum.o", "value": "#ec1c1c"}, "value": "#000000"}}},
{"data": {"name": "B"},
 "mark": {"type": "bar"},
 "encoding": {"y": {"field": "o", "type": "quantitative", "title": null, "scale": {"domain": [1.087, 3.217], "nice": false, "zero": false},
   "axis": {"orient": "right", "values": [1.2,1.3,1.4,1.5,1.6,1.7,1.8,1.9,2.0,2.1,2.2,2.3,2.4,2.5,2.6,2.7,2.8,2.9,3.0,3.1,3.2], "labelExpr": "abs(datum.value*2 - round(datum.value*2)) < 0.01 ? replace(format(datum.value, '.2f'), '.', ',') : ''", "tickSize": 7, "tickColor": "#606060", "domainColor": "#707070", "grid": false, "title": null, "labelFont": "Liberation Sans", "labelFontSize": 14, "labelColor": "#404040", "labelPadding": 2, "labelOverlap": false, "labelBaseline": "middle"}},
  "y2": {"field": "c"}, "size": {"value": 4},
  "color": {"condition": {"test": "datum.c > datum.o", "value": "#ec1c1c"}, "value": "#000000"}}},
{"data": {"name": "B"},
 "mark": {"type": "tick", "orient": "horizontal", "thickness": 1.2},
 "encoding": {"y": {"field": "c", "type": "quantitative", "title": null, "scale": {"domain": [1.087, 3.217], "nice": false, "zero": false},
   "axis": {"orient": "right", "values": [1.2,1.3,1.4,1.5,1.6,1.7,1.8,1.9,2.0,2.1,2.2,2.3,2.4,2.5,2.6,2.7,2.8,2.9,3.0,3.1,3.2], "labelExpr": "abs(datum.value*2 - round(datum.value*2)) < 0.01 ? replace(format(datum.value, '.2f'), '.', ',') : ''", "tickSize": 7, "tickColor": "#606060", "domainColor": "#707070", "grid": false, "title": null, "labelFont": "Liberation Sans", "labelFontSize": 14, "labelColor": "#404040", "labelPadding": 2, "labelOverlap": false, "labelBaseline": "middle"}},
  "size": {"value": 4},
  "color": {"condition": {"test": "datum.c > datum.o", "value": "#ec1c1c"}, "value": "#000000"}}},
{"data": {"name": "A"},
 "mark": {"type": "rule", "strokeWidth": 1},
 "encoding": {"y": {"field": "l", "type": "quantitative", "title": null, "scale": {"domain": [1.087, 3.217], "nice": false, "zero": false},
   "axis": {"orient": "right", "values": [1.2,1.3,1.4,1.5,1.6,1.7,1.8,1.9,2.0,2.1,2.2,2.3,2.4,2.5,2.6,2.7,2.8,2.9,3.0,3.1,3.2], "labelExpr": "abs(datum.value*2 - round(datum.value*2)) < 0.01 ? replace(format(datum.value, '.2f'), '.', ',') : ''", "tickSize": 7, "tickColor": "#606060", "domainColor": "#707070", "grid": false, "title": null, "labelFont": "Liberation Sans", "labelFontSize": 14, "labelColor": "#404040", "labelPadding": 2, "labelOverlap": false, "labelBaseline": "middle"}},
  "y2": {"field": "h"},
  "color": {"condition": {"test": "datum.c > datum.o", "value": "#ff00ff"}, "value": "#0000ff"}}},
{"data": {"name": "A"},
 "mark": {"type": "bar"},
 "encoding": {"y": {"field": "o", "type": "quantitative", "title": null, "scale": {"domain": [1.087, 3.217], "nice": false, "zero": false},
   "axis": {"orient": "right", "values": [1.2,1.3,1.4,1.5,1.6,1.7,1.8,1.9,2.0,2.1,2.2,2.3,2.4,2.5,2.6,2.7,2.8,2.9,3.0,3.1,3.2], "labelExpr": "abs(datum.value*2 - round(datum.value*2)) < 0.01 ? replace(format(datum.value, '.2f'), '.', ',') : ''", "tickSize": 7, "tickColor": "#606060", "domainColor": "#707070", "grid": false, "title": null, "labelFont": "Liberation Sans", "labelFontSize": 14, "labelColor": "#404040", "labelPadding": 2, "labelOverlap": false, "labelBaseline": "middle"}},
  "y2": {"field": "c"}, "size": {"value": 4},
  "color": {"condition": {"test": "datum.c > datum.o", "value": "#ff00ff"}, "value": "#0000ff"}}},
{"data": {"name": "A"},
 "mark": {"type": "tick", "orient": "horizontal", "thickness": 1.2},
 "encoding": {"y": {"field": "c", "type": "quantitative", "title": null, "scale": {"domain": [1.087, 3.217], "nice": false, "zero": false},
   "axis": {"orient": "right", "values": [1.2,1.3,1.4,1.5,1.6,1.7,1.8,1.9,2.0,2.1,2.2,2.3,2.4,2.5,2.6,2.7,2.8,2.9,3.0,3.1,3.2], "labelExpr": "abs(datum.value*2 - round(datum.value*2)) < 0.01 ? replace(format(datum.value, '.2f'), '.', ',') : ''", "tickSize": 7, "tickColor": "#606060", "domainColor": "#707070", "grid": false, "title": null, "labelFont": "Liberation Sans", "labelFontSize": 14, "labelColor": "#404040", "labelPadding": 2, "labelOverlap": false, "labelBaseline": "middle"}},
  "size": {"value": 4},
  "color": {"condition": {"test": "datum.c > datum.o", "value": "#ff00ff"}, "value": "#0000ff"}}},
{"data": {"name": "lines"},
 "transform": [{"filter": {"field": "line", "oneOf": ["triUpper", "triLower"]}}],
 "mark": {"type": "line", "color": "#000000", "strokeWidth": 4, "clip": true},
 "encoding": {"detail": {"field": "line"}, "order": {"field": "k"}}},
{"data": {"name": "lines"},
 "transform": [{"filter": {"field": "line", "oneOf": ["arrHi1", "arrHi2"]}}],
 "mark": {"type": "line", "color": "#ff0000", "strokeWidth": 1.5},
 "encoding": {"detail": {"field": "line"}, "order": {"field": "k"}}},
{"data": {"name": "lines"},
 "transform": [{"filter": {"field": "line", "oneOf": ["arrLo2"]}}],
 "mark": {"type": "line", "color": "#0000ff", "strokeWidth": 1.5},
 "encoding": {"detail": {"field": "line"}, "order": {"field": "k"}}},
{"data": {"name": "tri"},
 "mark": {"type": "point", "filled": true, "size": 50, "opacity": 1},
 "encoding": {
  "shape": {"field": "dir", "type": "nominal", "scale": {"domain": ["left", "right"], "range": ["triangle-left", "triangle-right"]}, "legend": null},
  "color": {"field": "kind", "type": "nominal", "scale": {"domain": ["high", "low"], "range": ["#ff0000", "#0000ff"]}, "legend": null}}},
{"data": {"name": "ann"},
 "mark": {"type": "text", "align": "left", "baseline": "middle", "font": "Noto Sans CJK KR", "fontSize": 13},
 "encoding": {"text": {"field": "txt"},
  "color": {"field": "kind", "type": "nominal", "scale": {"domain": ["high", "low"], "range": ["#ff0000", "#0000ff"]}, "legend": null}}},
{"data": {"name": "notes"},
 "mark": {"type": "text", "align": "left", "baseline": "middle", "font": "Noto Sans CJK KR", "fontSize": 17, "color": "#111111"},
 "encoding": {"text": {"field": "txt"}}},
{"data": {"name": "bigArrows"},
 "transform": [{"filter": "datum.kind == 'up'"}],
 "mark": {"type": "point", "shape": "M0,-1L0.67,0.05L0.39,0.05L0.39,1L-0.39,1L-0.39,0.05L-0.67,0.05Z", "size": 1296, "filled": false, "stroke": "#ee1c1c", "strokeWidth": 3, "opacity": 1}},
{"data": {"name": "bigArrows"},
 "transform": [{"filter": "datum.kind == 'down'"}],
 "mark": {"type": "point", "shape": "M-0.2,-1L0.2,-1L0.2,0L0.38,0L0,1L-0.38,0L-0.2,0Z", "size": 1600, "filled": false, "stroke": "#4650d0", "strokeWidth": 3, "opacity": 1}},
{"data": {"name": "boxes"},
 "mark": {"type": "rect"},
 "encoding": {"x2": {"field": "t2"}, "y2": {"field": "p2"},
  "color": {"condition": {"test": "datum.name == 'A'", "value": "#ff00ff"}, "value": "#e8141c"}}},
{"data": {"name": "rlabels"},
 "mark": {"type": "text", "align": "left", "baseline": "middle", "font": "Liberation Sans", "fontSize": 12},
 "encoding": {"text": {"field": "txt"},
  "color": {"condition": [
    {"test": "datum.name == 'Abox' || datum.name == 'Bbox'", "value": "#ffffff"},
    {"test": "datum.name == 'Apct'", "value": "#ff00ff"},
    {"test": "datum.name == 'Bpct'", "value": "#e8141c"}], "value": "#222222"}}}
]
}
